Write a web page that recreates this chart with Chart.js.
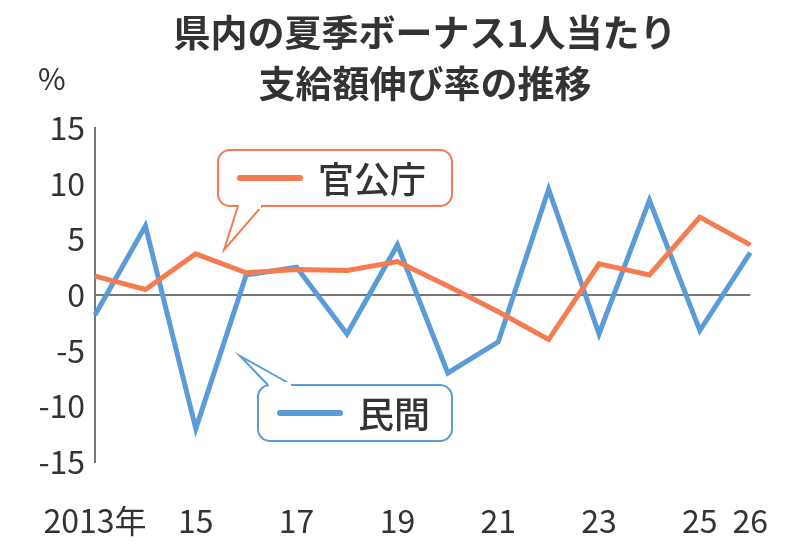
<!DOCTYPE html>
<html><head><meta charset="utf-8">
<script src="https://cdn.jsdelivr.net/npm/chart.js@4/dist/chart.umd.min.js"></script>
<style>html,body{margin:0;background:#fff}#c{display:block}</style>
</head><body>
<div style="width:800px;height:555px"><canvas id="c"></canvas></div>
<script>
const years = ["2013","2014","2015","2016","2017","2018","2019","2020","2021","2022","2023","2024","2025","2026"];
const shownYears = {"2013":"2013年","2015":"15","2017":"17","2019":"19","2021":"21","2023":"23","2025":"25","2026":"26"};
const kankocho = [1.7, 0.5, 3.7, 2.0, 2.3, 2.2, 3.0, 0.8, -1.5, -4.0, 2.8, 1.8, 7.0, 4.5];
const minkan = [-1.8, 6.2, -12.0, 1.8, 2.5, -3.5, 4.5, -7.0, -4.2, 9.5, -3.5, 8.5, -3.2, 3.8];

const orange = "#f47c50", blue = "#5b9bd8";
const font = "'Noto Sans CJK JP', sans-serif";

function callout(ctx, x, y, w, h, px, py, tx, ty, color, text) {
  ctx.save();
  ctx.strokeStyle = color; ctx.lineWidth = 2; ctx.fillStyle = "#fff";
  ctx.beginPath();
  ctx.roundRect(x, y, w, h, 12);
  ctx.fill(); ctx.stroke();
  ctx.beginPath();
  ctx.moveTo(px - 12, py); ctx.lineTo(tx, ty); ctx.lineTo(px + 12, py);
  ctx.fill(); ctx.stroke();
  ctx.fillRect(px - 11, py - 3, 22, 6);
  ctx.lineWidth = 6; ctx.lineCap = "round";
  ctx.beginPath(); ctx.moveTo(x + 22, y + h / 2); ctx.lineTo(x + 82, y + h / 2); ctx.stroke();
  ctx.fillStyle = "#333"; ctx.font = "500 36px " + font; ctx.textBaseline = "middle";
  ctx.fillText(text, x + 100, y + h / 2 + 1);
  ctx.restore();
}

const deco = {
  id: "deco",
  afterDraw(chart) {
    const ctx = chart.ctx;
    ctx.save();
    ctx.fillStyle = "#333"; ctx.textAlign = "center";
    ctx.font = "bold 37px " + font;
    ctx.fillText("県内の夏季ボーナス1人当たり", 425, 47);
    ctx.fillText("支給額伸び率の推移", 425, 98);
    ctx.textAlign = "left"; ctx.font = "30px " + font;
    ctx.fillText("%", 38, 90);
    ctx.restore();
    callout(ctx, 218, 150, 234, 56, 250, 206, 224, 250, orange, "官公庁");
    callout(ctx, 258, 385, 194, 56, 280, 385, 240, 356, blue, "民間");
  }
};

new Chart(document.getElementById("c"), {
  type: "line",
  data: {
    labels: years,
    datasets: [
      { data: kankocho, borderColor: orange, borderWidth: 5, pointRadius: 0, tension: 0 },
      { data: minkan, borderColor: blue, borderWidth: 5, pointRadius: 0, tension: 0 }
    ]
  },
  options: {
    responsive: true, maintainAspectRatio: false, animation: false,
    layout: { padding: { top: 128, right: 0, left: 0, bottom: 0 } },
    plugins: { legend: { display: false }, tooltip: { enabled: false } },
    scales: {
      x: {
        offset: false,
        grid: { display: false }, border: { display: false },
        afterFit: s => { s.height = 93; },
        ticks: {
          autoSkip: false, maxRotation: 0, padding: 32, color: "#333",
          font: { family: font, size: 32 },
          callback: function (v) { return shownYears[years[v]] || ""; }
        }
      },
      y: {
        min: -15, max: 15,
        afterFit: s => { s.width = 95; },
        border: { display: true, color: "#777", width: 2 },
        grid: { drawTicks: false, lineWidth: 2, color: c => c.tick.value === 0 ? "#777" : "transparent" },
        ticks: { stepSize: 5, padding: 10, color: "#333", font: { family: font, size: 32 } }
      }
    }
  },
  plugins: [deco]
});
</script>
</body></html>
